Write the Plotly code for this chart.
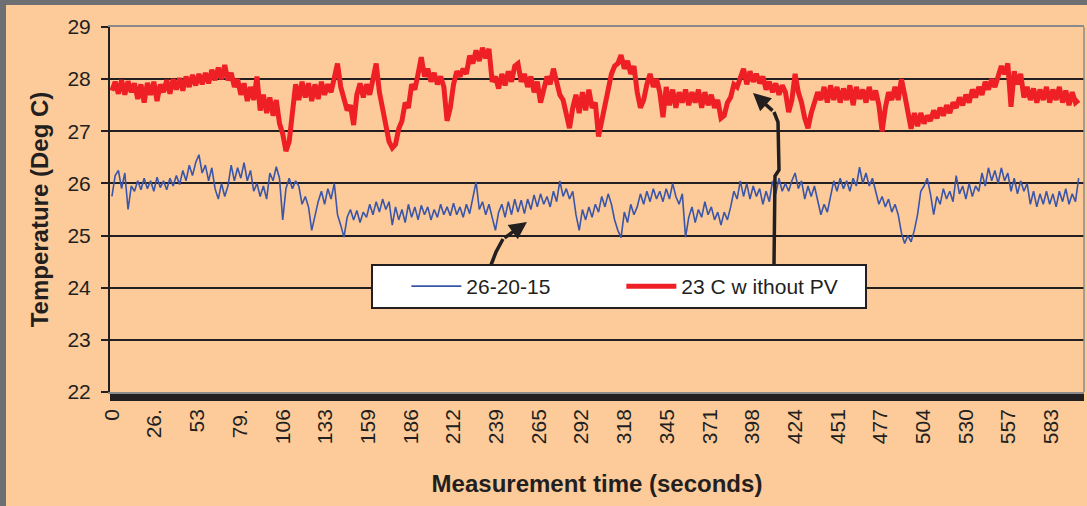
import plotly.graph_objects as go

# ---------------- data ----------------
time_s = list(range(0, 601, 2))  # 0 .. 600 s, 2 s step

red_23c_without_pv = [
    27.78, 27.95, 27.72, 27.98, 27.7, 27.96, 27.75, 27.92, 27.62, 27.9,
    27.55, 27.93, 27.7, 27.95, 27.58, 27.9, 27.75, 27.98, 27.72, 28.0,
    27.8, 28.02, 27.78, 28.05, 27.85, 28.08, 27.88, 28.1, 27.9, 28.12,
    27.92, 28.18, 27.98, 28.22, 28.0, 28.27, 27.98, 28.12, 27.85, 28.0,
    27.7, 27.92, 27.58, 27.85, 27.6, 28.05, 27.4, 27.7, 27.35, 27.65,
    27.3, 27.6, 27.15, 26.95, 26.62, 26.8, 27.35, 27.9, 27.6, 27.95,
    27.65, 27.92, 27.58, 27.9, 27.62, 27.95, 27.7, 27.9, 27.75, 28.0,
    28.3, 27.85, 27.6, 27.4, 27.5, 27.12, 27.7, 27.92, 27.65, 27.9,
    27.7, 28.0, 28.3, 27.75, 27.4, 27.05, 26.8, 26.68, 26.75, 27.05,
    27.2, 27.55, 27.45, 27.9, 27.8, 28.1, 28.42, 28.05, 28.2, 27.95,
    28.12, 27.9, 28.05, 27.85, 27.2, 27.45, 27.9, 28.15, 28.05, 28.2,
    28.1, 28.45, 28.3, 28.55, 28.35, 28.6, 28.4, 28.58, 27.95, 28.05,
    27.82, 28.1, 27.88, 28.15, 27.95, 28.25, 28.3, 27.95, 28.1, 27.85,
    28.05, 27.75, 27.95, 27.55, 27.85, 28.05, 27.9, 28.2, 27.95, 27.7,
    27.6, 27.3, 27.06, 27.45, 27.7, 27.35, 27.75, 27.4, 27.8, 27.45,
    27.55, 26.9, 27.2, 27.6, 27.9, 28.1, 28.25, 28.3, 28.46, 28.2,
    28.35, 28.1, 28.25, 27.75, 27.45, 27.6, 27.9, 28.1, 27.85, 28.0,
    27.75, 27.27, 27.85, 27.5, 27.8, 27.45, 27.75, 27.55, 27.8, 27.5,
    27.75, 27.55, 27.8, 27.45, 27.75, 27.5, 27.7, 27.45, 27.6, 27.25,
    27.3, 27.55, 27.65, 27.9, 27.85, 28.05, 28.2, 27.9, 28.15, 27.95,
    28.1, 27.92, 28.05, 27.8, 27.95, 27.75, 27.92, 27.7, 27.88, 27.75,
    27.37, 27.6, 28.1, 27.75, 27.55, 27.25, 27.06, 27.35, 27.55, 27.75,
    27.6, 27.85, 27.55, 27.88, 27.6, 27.85, 27.55, 27.82, 27.6, 27.88,
    27.5, 27.85, 27.62, 27.8, 27.55, 27.85, 27.6, 27.78, 27.5, 27.0,
    27.45, 27.75, 27.6, 27.85, 27.6, 28.0, 27.7, 27.3, 27.05, 27.35,
    27.1, 27.35, 27.15, 27.3, 27.2, 27.4, 27.25, 27.45, 27.3, 27.5,
    27.35, 27.55, 27.45, 27.65, 27.5, 27.7, 27.55, 27.8, 27.65, 27.85,
    27.7, 27.95, 27.8, 28.0, 27.85, 28.05, 28.25, 28.1, 28.3, 27.47,
    28.15, 27.9, 28.1, 27.65, 27.85, 27.6, 27.82, 27.55, 27.8, 27.6,
    27.85, 27.55, 27.8, 27.6, 27.85, 27.55, 27.78, 27.5, 27.75, 27.55,
    27.6,
]

blue_26_20_15 = [
    25.75, 26.15, 26.25, 25.9, 26.2, 25.5, 25.95, 25.85, 26.05, 25.88,
    26.1, 25.9, 26.05, 25.85, 26.12, 25.92, 26.05, 25.88, 26.1, 25.95,
    26.15, 25.98, 26.25, 26.05, 26.35, 26.15, 26.4, 26.55, 26.2, 26.35,
    26.05, 26.3, 25.9, 25.7, 26.0, 25.75, 25.95, 26.35, 26.05, 26.3,
    26.1, 26.4, 26.05, 26.25, 25.85, 26.0, 25.75, 25.95, 25.7, 26.2,
    26.05, 26.32, 26.1, 25.3, 25.9, 26.1, 25.9, 26.05, 25.95, 25.6,
    25.75, 25.55, 25.1, 25.4, 25.65, 25.85, 25.6, 25.9, 25.7, 26.0,
    25.4, 25.2, 24.97, 25.35, 25.5, 25.3, 25.48, 25.25, 25.45, 25.35,
    25.6, 25.4, 25.65, 25.45, 25.7, 25.5, 25.65, 25.2, 25.55, 25.3,
    25.5, 25.25, 25.6, 25.35, 25.55, 25.3, 25.58, 25.4, 25.55, 25.3,
    25.5, 25.35, 25.6, 25.4, 25.55, 25.38, 25.62, 25.4, 25.55, 25.35,
    25.6, 25.42, 25.7, 26.03, 25.5, 25.65, 25.4, 25.6, 25.35, 25.1,
    25.45, 25.6, 25.35, 25.65, 25.4, 25.7, 25.45, 25.68, 25.42, 25.7,
    25.5, 25.78, 25.55, 25.8, 25.6, 25.75, 25.55, 25.85, 25.65, 26.05,
    25.75, 25.9, 25.7, 25.85, 25.4, 25.1, 25.5, 25.3, 25.55, 25.35,
    25.6, 25.45, 25.75, 25.55, 25.8, 25.6, 25.3, 25.1, 24.96, 25.45,
    25.25, 25.6, 25.4, 25.55, 25.8, 25.6, 25.85, 25.65, 25.9, 25.7,
    25.85, 25.65, 25.9, 25.7, 26.0, 25.75, 25.6, 25.8, 24.97, 25.35,
    25.55, 25.25, 25.5, 25.35, 25.65, 25.4, 25.55, 25.3, 25.45, 25.2,
    25.45, 25.3, 25.55, 25.85, 25.7, 26.05, 25.75, 26.0, 25.7, 25.95,
    25.75, 25.9, 25.6, 25.85, 25.65, 26.05, 25.8, 26.1, 25.85, 26.0,
    25.85, 26.05, 26.2, 25.9, 26.05, 25.7, 25.95, 25.75, 25.95, 25.7,
    25.4, 25.6, 25.45, 25.75, 26.05, 25.85, 26.1, 25.9, 26.05, 25.85,
    26.1, 25.95, 26.31, 26.0, 26.2, 25.95, 26.1, 25.85, 25.6, 25.75,
    25.55, 25.7, 25.45, 25.6, 25.4, 25.05, 24.85, 25.0, 24.88, 25.1,
    25.4, 25.85, 25.95, 26.1, 25.8, 25.4, 25.75, 25.6, 25.9, 25.7,
    25.85, 25.65, 26.15, 25.8, 25.95, 25.7, 26.0, 25.75, 25.95, 25.85,
    26.2, 25.95, 26.3, 26.05, 26.25, 26.0, 26.3, 26.05, 26.2, 25.85,
    26.1, 25.8, 26.05, 25.85, 26.0, 25.6, 25.85, 25.55, 25.8, 25.6,
    25.85, 25.6, 25.8, 25.55, 25.85, 25.65, 25.9, 25.6, 25.8, 25.65,
    26.1,
]

x_tick_values = [0, 26.5, 53, 79.5, 106, 132.5, 159, 185.5, 212, 238.5, 265,
                 291.5, 318, 344.5, 371, 397.5, 424, 450.5, 477, 503.5, 530,
                 556.5, 583]
x_tick_labels = ["0", "26.", "53", "79.", "106", "133", "159", "186", "212",
                 "239", "265", "292", "318", "345", "371", "398", "424", "451",
                 "477", "504", "530", "557", "583"]
y_tick_values = [22, 23, 24, 25, 26, 27, 28, 29]

# ---------------- layout constants ----------------
W, H = 1087, 506
ML, MR, MT, MB = 110, 3, 27, 114
X_RANGE = [-1.2, 603.3]
Y_RANGE = [22, 29]
PW, PH = W - ML - MR, H - MT - MB

BG = "#FDCB9A"
INK = "#231F20"
FONT = "Liberation Sans, Arial, sans-serif"


def px2x(px):
    return X_RANGE[0] + (px - ML) / PW * (X_RANGE[1] - X_RANGE[0])


def py2y(py):
    return Y_RANGE[1] - (py - MT) / PH * (Y_RANGE[1] - Y_RANGE[0])


fig = go.Figure()
fig.add_trace(go.Scatter(x=time_s, y=blue_26_20_15, mode="lines",
                         name="26-20-15", legendwidth=150,
                         line=dict(color="#3A56A8", width=1.6)))
fig.add_trace(go.Scatter(x=time_s, y=red_23c_without_pv, mode="lines",
                         name="23 C w ithout PV", legendwidth=178,
                         line=dict(color="#EE1F25", width=5)))

fig.update_layout(
    width=W, height=H, autosize=False,
    margin=dict(l=ML, r=MR, t=MT, b=MB, pad=0),
    paper_bgcolor=BG, plot_bgcolor=BG,
    font=dict(family=FONT, color=INK, size=21),
    showlegend=True,
    legend=dict(
        orientation="h", x=(371 - ML) / PW, y=(MT + PH - 264) / PH,
        xanchor="left", yanchor="top",
        bgcolor="white", bordercolor=INK, borderwidth=2,
        font=dict(size=21, family=FONT, color=INK),
        title=dict(text="&nbsp;&nbsp;&nbsp;&nbsp;", side="left",
                   font=dict(size=21, family=FONT)),
        entrywidthmode="pixels", itemwidth=50,
    ),
    xaxis=dict(
        range=X_RANGE, tickmode="array", tickvals=x_tick_values,
        ticktext=x_tick_labels, tickangle=-90,
        tickfont=dict(size=21, family=FONT, color=INK),
        ticks="outside", ticklen=7, tickwidth=1, tickcolor=INK,
        minor=dict(tickmode="linear", tick0=0, dtick=0.5, ticks="outside",
                   ticklen=7, tickwidth=1, tickcolor=INK, showgrid=False),
        showgrid=False, zeroline=False,
        showline=True, mirror=True, linecolor="#8A8A8A", linewidth=1.5,
        title=dict(text="<b>Measurement time (seconds)</b>",
                   font=dict(size=24, family=FONT, color=INK), standoff=32),
    ),
    yaxis=dict(
        range=Y_RANGE, tickmode="array", tickvals=y_tick_values,
        tickfont=dict(size=21, family=FONT, color=INK),
        ticks="outside", ticklen=7, tickwidth=1.5, tickcolor=INK,
        ticklabelstandoff=6,
        showgrid=True, gridcolor=INK, gridwidth=1.5, zeroline=False,
        showline=True, linecolor=INK, linewidth=2,
        title=dict(text="<b>Temperature (Deg C)</b>",
                   font=dict(size=24, family=FONT, color=INK), standoff=12),
    ),
)

# right border of the plot area and the grey picture frame
fig.add_shape(type="line", xref="paper", yref="paper", x0=1, x1=1, y0=0, y1=1,
              line=dict(color="#8A8A8A", width=1.5))
fig.add_shape(type="rect", xref="paper", yref="paper", layer="above",
              x0=-ML / PW, x1=(6 - ML) / PW, y0=-MB / PH, y1=(PH + MT) / PH,
              line=dict(width=0), fillcolor="#6E6F73")
fig.add_shape(type="rect", xref="paper", yref="paper", layer="above",
              x0=-ML / PW, x1=(W - ML) / PW, y0=(PH + MT - 5) / PH,
              y1=(PH + MT) / PH, line=dict(width=0), fillcolor="#6E6F73")

# arrows from the legend to the two curves
arrow_line = dict(color=INK, width=3.5)
fig.add_shape(type="path", xref="x", yref="y", line=arrow_line,
              path=f"M{px2x(491)},{py2y(265)} L{px2x(496)},{py2y(252)} L{px2x(503)},{py2y(239)}")
fig.add_annotation(x=px2x(527), y=py2y(222), ax=px2x(503), ay=py2y(239),
                   axref="x", ayref="y", xref="x", yref="y", text="",
                   showarrow=True, arrowhead=2, arrowsize=1, arrowwidth=3.5,
                   arrowcolor=INK, standoff=0)
fig.add_shape(type="path", xref="x", yref="y", line=arrow_line,
              path=(f"M{px2x(774)},{py2y(265)} L{px2x(775)},{py2y(176)} "
                    f"L{px2x(779)},{py2y(170)} L{px2x(778)},{py2y(122)} "
                    f"L{px2x(774)},{py2y(112)}"))
fig.add_annotation(x=px2x(753), y=py2y(93), ax=px2x(774), ay=py2y(112),
                   axref="x", ayref="y", xref="x", yref="y", text="",
                   showarrow=True, arrowhead=2, arrowsize=1, arrowwidth=3.5,
                   arrowcolor=INK, standoff=0)

fig.write_html("out.html")
